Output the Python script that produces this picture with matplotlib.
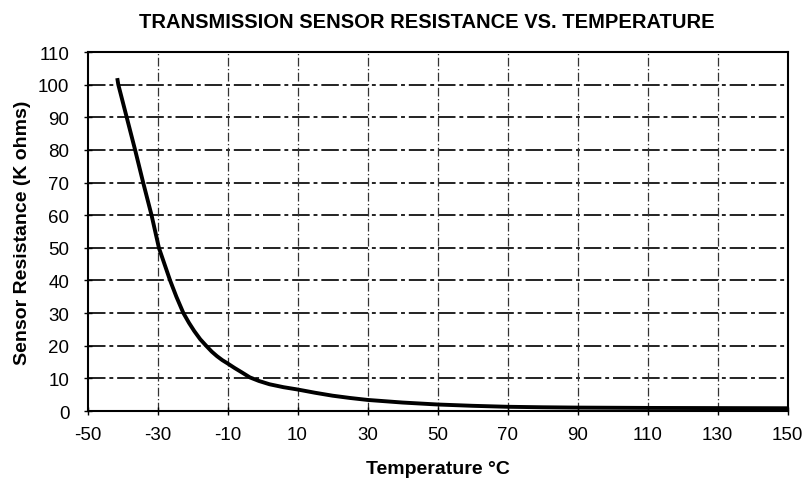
import matplotlib.pyplot as plt

# temperature (deg C) vs sensor resistance (K ohms)
temp = [-41.5, -41.2, -38.8, -36.4, -34.1, -31.7, -29.6, -28, -26.4, -24.6,
        -22.6, -21, -19.5, -17.8, -16.1, -14.5, -13, -11.5, -10, -8,
        -6, -3.6, -1, 2, 6, 10, 15, 20, 25, 30,
        40, 50, 60, 70, 80, 90, 110, 130, 150]
resist = [102, 100, 90, 80, 70, 60, 50, 45, 40, 35,
          30, 27, 24.5, 22, 20, 18.2, 16.8, 15.6, 14.6, 13.2,
          11.9, 10.3, 9.2, 8.2, 7.3, 6.6, 5.6, 4.7, 4.0, 3.4,
          2.6, 2.0, 1.6, 1.3, 1.15, 1.05, 0.95, 0.9, 0.85]

xticks = list(range(-50, 151, 20))
yticks = list(range(0, 111, 10))

plt.rcParams['font.family'] = ['Liberation Sans', 'DejaVu Sans']

fig = plt.figure(figsize=(8.05, 4.81), dpi=100)
ax = fig.add_axes([0.1087, 0.1434, 0.8696, 0.7464])

ax.plot(temp, resist, color='black', lw=2.8, solid_capstyle='butt',
        solid_joinstyle='round', zorder=3)

ax.set_xlim(-50, 150)
ax.set_ylim(0, 110)
ax.set_xticks(xticks)
ax.set_yticks(yticks)
ax.set_xticklabels([str(t) for t in xticks], fontsize=13.5)
ax.set_yticklabels([str(t) for t in yticks], fontsize=13.5)
ax.tick_params(axis='x', direction='inout', length=6, width=1, pad=8)
ax.tick_params(axis='y', direction='inout', length=6, width=1, pad=10)

for y in yticks[1:-1]:
    ax.axhline(y, color='#222222', lw=1.4, ls=(0, (9, 2, 2, 2)), zorder=1)
for x in xticks[1:-1]:
    ax.axvline(x, color='#333333', lw=0.9, ls=(0, (7, 2, 1, 2)), zorder=1)

for s in ax.spines.values():
    s.set_linewidth(1.5)
    s.set_color('black')

ax.set_title('TRANSMISSION SENSOR RESISTANCE VS. TEMPERATURE',
             fontsize=14.5, fontweight='bold', pad=18, x=0.485)
ax.set_xlabel('Temperature \u00b0C', fontsize=14, fontweight='bold', labelpad=12)
ax.set_ylabel('Sensor Resistance (K ohms)', fontsize=14, fontweight='bold', labelpad=5)

fig.savefig('out.png', dpi=100)
